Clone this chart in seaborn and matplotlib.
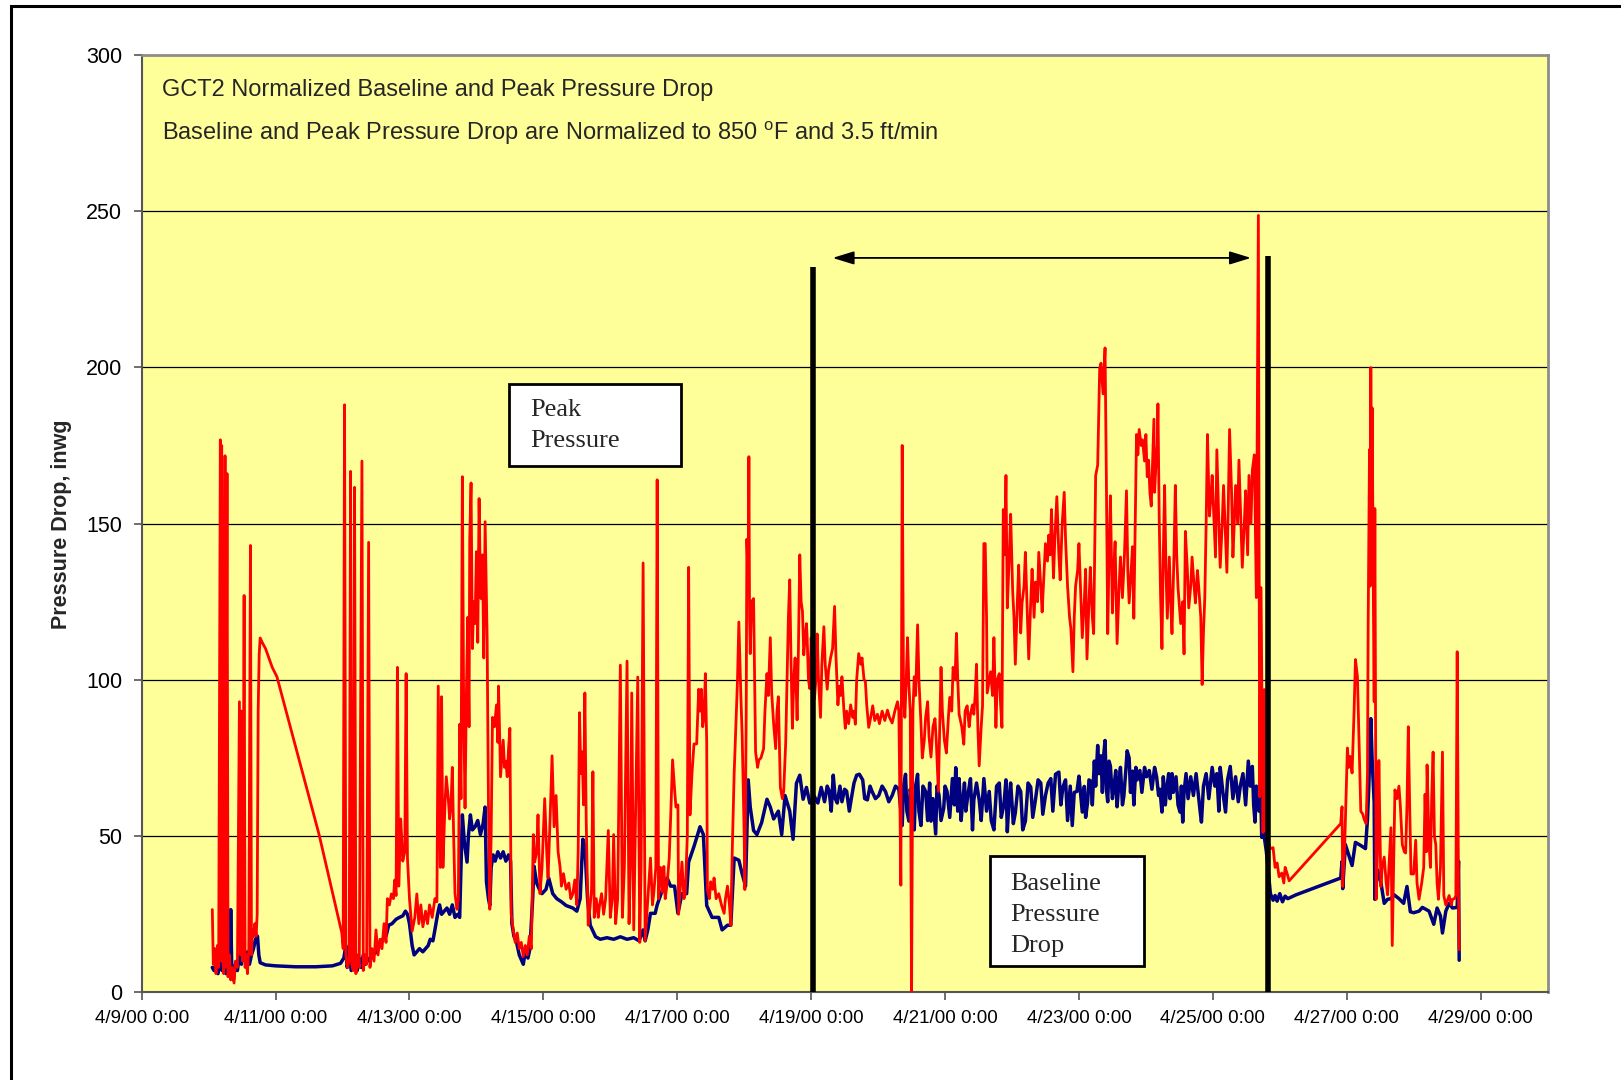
import numpy as np
import pandas as pd
import matplotlib
matplotlib.use("Agg")
import matplotlib.pyplot as plt
import matplotlib.dates as mdates
from matplotlib.ticker import FuncFormatter
from matplotlib.patches import Rectangle
import seaborn as sns

# ---------------- data (days after 4/9/00 0:00, inwg) ----------------
red_days = [1.055, 1.07, 1.09, 1.11, 1.13, 1.15, 1.175, 1.185, 1.195, 1.21, 1.225, 1.245, 1.255, 1.275, 1.29,
            1.31, 1.33, 1.35, 1.38, 1.40, 1.43, 1.46, 1.475, 1.49, 1.51, 1.53, 1.545, 1.56, 1.58, 1.60, 1.625,
            1.64, 1.655, 1.67, 1.69, 1.71, 1.725, 1.74, 1.755, 1.77, 1.80, 1.85, 1.95, 2.02, 2.35, 2.65, 2.99,
            3.01, 3.03, 3.05, 3.075, 3.10, 3.12, 3.14, 3.16, 3.18, 3.20, 3.23, 3.25, 3.29, 3.31, 3.33, 3.36,
            3.39, 3.41, 3.44, 3.47, 3.50, 3.53, 3.56, 3.59, 3.62, 3.65, 3.67, 3.70, 3.73, 3.76, 3.78, 3.80,
            3.82, 3.84, 3.87, 3.90, 3.93, 3.95, 3.97, 4.00, 4.04, 4.08, 4.11, 4.14, 4.17, 4.20, 4.24, 4.27,
            4.30, 4.34, 4.38, 4.41, 4.43, 4.46, 4.48, 4.50, 4.53, 4.55, 4.58, 4.60, 4.62, 4.64, 4.66, 4.68,
            4.71, 4.73, 4.75, 4.77, 4.79, 4.81, 4.83, 4.85, 4.87, 4.89, 4.90, 4.92, 4.94, 4.96, 4.98, 5.00,
            5.02, 5.04, 5.06, 5.07, 5.09, 5.11, 5.13, 5.15, 5.16, 5.18, 5.20, 5.22, 5.24, 5.27, 5.30, 5.32,
            5.33, 5.35, 5.36, 5.38, 5.40, 5.42, 5.44, 5.46, 5.48, 5.50, 5.52, 5.55, 5.58, 5.61, 5.64, 5.67,
            5.70, 5.73, 5.76, 5.79, 5.82, 5.85, 5.87, 5.90, 5.92, 5.95, 5.98, 6.02, 6.05, 6.07, 6.10, 6.13,
            6.16, 6.19, 6.22, 6.25, 6.27, 6.30, 6.34, 6.38, 6.41, 6.44, 6.47, 6.50, 6.52, 6.54, 6.56, 6.58,
            6.60, 6.62, 6.64, 6.67, 6.70, 6.72, 6.74, 6.76, 6.79, 6.82, 6.84, 6.87, 6.90, 6.93, 6.97, 7.00,
            7.03, 7.05, 7.08, 7.11, 7.15, 7.18, 7.21, 7.25, 7.28, 7.30, 7.32, 7.35, 7.38, 7.41, 7.44, 7.46,
            7.49, 7.52, 7.56, 7.60, 7.63, 7.65, 7.68, 7.70, 7.72, 7.75, 7.78, 7.80, 7.82, 7.85, 7.88, 7.90,
            7.93, 7.96, 7.98, 8.01, 8.02, 8.05, 8.07, 8.10, 8.12, 8.15, 8.17, 8.19, 8.22, 8.25, 8.29, 8.32,
            8.34, 8.36, 8.38, 8.40, 8.42, 8.44, 8.45, 8.48, 8.50, 8.53, 8.55, 8.58, 8.62, 8.66, 8.70, 8.72,
            8.75, 8.78, 8.80, 8.82, 8.85, 8.87, 8.90, 8.92, 8.95, 8.97, 9.00, 9.01, 9.03, 9.04, 9.06, 9.07,
            9.08, 9.09, 9.11, 9.14, 9.16, 9.17, 9.20, 9.22, 9.25, 9.29, 9.31, 9.34, 9.36, 9.39, 9.41, 9.44,
            9.47, 9.49, 9.51, 9.53, 9.54, 9.57, 9.59, 9.62, 9.64, 9.66, 9.68, 9.70, 9.72, 9.74, 9.76, 9.78,
            9.79, 9.81, 9.83, 9.85, 9.87, 9.89, 9.91, 9.93, 9.94, 9.96, 9.98, 10.00, 10.02, 10.05, 10.07,
            10.09, 10.11, 10.14, 10.16, 10.19, 10.21, 10.24, 10.26, 10.29, 10.32, 10.35, 10.37, 10.40, 10.42,
            10.44, 10.46, 10.49, 10.51, 10.53, 10.56, 10.59, 10.62, 10.64, 10.66, 10.68, 10.71, 10.74, 10.76,
            10.79, 10.81, 10.83, 10.86, 10.89, 10.92, 10.95, 10.99, 11.02, 11.06, 11.10, 11.14, 11.17, 11.21,
            11.25, 11.29, 11.31, 11.34, 11.36, 11.38, 11.40, 11.42, 11.44, 11.46, 11.48, 11.50, 11.52, 11.54,
            11.56, 11.59, 11.61, 11.64, 11.66, 11.69, 11.71, 11.74, 11.76, 11.79, 11.82, 11.85, 11.87, 11.90,
            11.92, 11.94, 11.96, 11.99, 12.02, 12.05, 12.07, 12.10, 12.12, 12.15, 12.17, 12.19, 12.21, 12.25,
            12.28, 12.30, 12.33, 12.36, 12.38, 12.41, 12.43, 12.45, 12.47, 12.49, 12.51, 12.54, 12.56, 12.58,
            12.60, 12.62, 12.63, 12.66, 12.68, 12.71, 12.73, 12.76, 12.78, 12.81, 12.83, 12.85, 12.87, 12.89,
            12.91, 12.93, 12.96, 12.98, 13.01, 13.03, 13.05, 13.08, 13.10, 13.13, 13.15, 13.18, 13.20, 13.23,
            13.25, 13.28, 13.30, 13.33, 13.35, 13.38, 13.40, 13.43, 13.45, 13.48, 13.50, 13.53, 13.55, 13.57,
            13.59, 13.62, 13.64, 13.67, 13.70, 13.72, 13.75, 13.78, 13.80, 13.83, 13.86, 13.88, 13.91, 13.93,
            13.95, 13.98, 14.00, 14.03, 14.05, 14.08, 14.10, 14.12, 14.15, 14.17, 14.20, 14.22, 14.25, 14.28,
            14.31, 14.33, 14.36, 14.39, 14.41, 14.43, 14.45, 14.47, 14.50, 14.52, 14.54, 14.57, 14.60, 14.62,
            14.65, 14.68, 14.71, 14.73, 14.75, 14.78, 14.80, 14.82, 14.86, 14.88, 14.90, 14.93, 14.95, 14.98,
            15.00, 15.02, 15.04, 15.06, 15.08, 15.10, 15.12, 15.13, 15.15, 15.17, 15.18, 15.20, 15.22, 15.24,
            15.26, 15.28, 15.30, 15.32, 15.35, 15.37, 15.39, 15.42, 15.44, 15.46, 15.48, 15.52, 15.55, 15.57,
            15.59, 15.62, 15.64, 15.67, 15.69, 15.72, 15.74, 15.77, 15.79, 15.82, 15.84, 15.86, 15.88, 15.90,
            15.92, 15.94, 15.95, 15.97, 15.99, 16.02, 16.04, 16.06, 16.09, 16.11, 16.14, 16.16, 16.19, 16.21,
            16.23, 16.25, 16.28, 16.30, 16.32, 16.34, 16.37, 16.39, 16.42, 16.44, 16.47, 16.49, 16.52, 16.54,
            16.57, 16.59, 16.62, 16.65, 16.68, 16.70, 16.72, 16.75, 16.77, 16.80, 16.86, 16.90, 16.93, 16.96,
            16.99, 17.03, 17.06, 17.08, 17.11, 17.14, 17.91, 17.93, 17.94, 17.97, 18.01, 18.03, 18.05, 18.08,
            18.11, 18.13, 18.16, 18.18, 18.21, 18.24, 18.26, 18.29, 18.31, 18.32, 18.34, 18.35, 18.36, 18.37,
            18.38, 18.40, 18.41, 18.42, 18.44, 18.46, 18.47, 18.48, 18.51, 18.53, 18.56, 18.59, 18.61, 18.63,
            18.66, 18.68, 18.70, 18.72, 18.75, 18.78, 18.80, 18.83, 18.86, 18.88, 18.90, 18.92, 18.94, 18.96,
            19.00, 19.03, 19.05, 19.08, 19.12, 19.15, 19.17, 19.19, 19.20, 19.23, 19.25, 19.27, 19.29, 19.31,
            19.33, 19.35, 19.37, 19.40, 19.43, 19.45, 19.48, 19.53, 19.56, 19.58, 19.61, 19.63, 19.65, 19.67,
            19.68]
red_vals = [26.5, 9, 14, 6, 15, 8, 176.8, 10, 175, 12, 6, 171.7, 8, 166, 5,
            12, 4, 8, 3, 10, 8, 93, 12, 90, 10, 127, 8, 12, 6, 14, 143,
            12, 20, 18, 22, 18, 25, 90, 108, 113.4, 112, 110, 104, 101, 74.5, 50.5, 19,
            14, 188, 12, 8, 10, 166.7, 9, 7, 161.6, 6, 12, 8, 170, 7, 12, 9,
            144, 8, 14, 10, 20, 12, 17, 14, 22, 16, 30, 28, 31.5, 30, 36, 31,
            104, 34, 55.5, 42, 45, 102, 43, 30, 19.6, 24, 31.5, 22, 28, 21, 26, 22,
            28, 24, 30, 29, 98, 40, 94.6, 40, 60, 69, 62, 55.5, 60, 72, 50, 31.6,
            26.6, 30, 85.8, 62, 165, 90, 59, 95, 120, 85, 145, 163, 110, 125, 118, 141,
            112, 158, 130, 126, 140, 107, 150.6, 125, 113.5, 60, 26.6, 50, 88, 85, 92, 80,
            98, 80, 69, 75, 80.7, 72, 74, 69, 78, 84.5, 25, 20, 16, 19, 14, 16,
            11.5, 15, 12, 18, 14, 50.5, 41.7, 45, 56.8, 31.6, 40, 62, 45, 36.6, 55, 75.7,
            53, 63, 45, 40, 34, 38, 33, 35, 30, 31.6, 36, 28, 45, 89.5, 70, 77,
            60, 95.8, 55, 21.5, 28, 33, 70.6, 24, 30, 24, 28, 31.6, 25, 30, 51.8, 24,
            30, 50.5, 22, 30, 104.7, 24, 40, 106, 22, 40, 95.8, 20, 60, 100.9, 16, 40,
            137.4, 16.5, 30, 43, 28, 32, 40, 164, 30, 40, 32, 40.3, 30, 35, 43, 55,
            74.4, 65, 59.3, 60, 25, 35, 41.7, 30, 31.6, 50, 136, 56.8, 70, 79.5, 79.5, 97,
            90, 97, 85, 88, 102, 80, 32.9, 30, 35.4, 33, 36.6, 30, 31.6, 28, 25.3, 30,
            34, 28, 21.5, 44, 70, 82, 100, 118.5, 95, 82, 50, 32.9, 90, 145, 130, 171.4,
            120, 108.4, 125, 126, 95, 77, 72, 74.4, 75, 78, 90, 102, 95, 113.5, 96, 85.8,
            78, 90, 94.6, 75, 65.6, 62, 64.4, 80, 99.6, 120, 132, 105, 84.5, 100, 107, 95,
            87.2, 110, 140, 125, 122, 108, 113.5, 118, 113.5, 100, 97.2, 113.5, 105, 94, 100,
            114.7, 100, 88, 105, 117, 105, 97, 103, 107, 110, 123.5, 108, 92, 98,
            95, 101, 90, 84.5, 90, 86, 92, 88, 90, 85.8, 100, 108.4, 105, 107,
            100, 99.6, 92, 84.8, 88, 91.7, 87, 89, 86, 90, 87, 90.3, 88, 86.2,
            90, 93, 90, 34.3, 175, 95, 88, 100, 113.5, 98.5, 90, 0, 90, 101,
            95, 117.6, 100, 86.2, 75, 80.7, 88, 93, 82, 75.3, 85, 87.6, 80, 64.3,
            85, 104, 90, 80.7, 76.6, 88, 94.4, 90, 104, 100, 114.9, 100, 89, 85,
            79.4, 90, 91.7, 85, 89, 92, 89, 95, 105, 85, 72.5, 85, 91.7, 143.6,
            143.6, 120, 95.8, 100, 102.6, 95, 113.5, 84.8, 100, 102, 92, 84.8, 154.5, 140,
            165.4, 123, 140, 153, 128.5, 120, 105, 125, 136.7, 115, 124.5, 130, 140.8, 120,
            106.7, 125, 135.4, 120, 131.3, 125, 140.8, 130, 121.7, 135, 143.6, 138, 146.3, 140,
            154.5, 132.6, 145, 158.6, 140, 132, 150, 160, 145, 130, 120, 116.3, 102.6, 120,
            130, 135, 143.6, 125, 113.5, 125, 135.4, 106.7, 125, 136, 120, 114.8, 165.4, 168.7,
            199.7, 201.3, 191.5, 206.2, 163.8, 114.8, 140, 158.9, 121.4, 135, 144.2, 111.6, 130, 139.3,
            126.3, 140, 160.5, 135, 124.6, 135, 142.6, 119.7, 178.5, 172, 180.1, 175, 176.8, 170,
            178.5, 165, 170.3, 160, 155.6, 170, 183.4, 160, 168.7, 175, 188.3, 150, 126.3, 110,
            140, 162.2, 135, 119.7, 139.3, 125, 114.8, 140, 162.2, 140, 129.5, 118, 125, 108.3,
            147.5, 135, 123, 130, 139.3, 130, 124.6, 135, 129.5, 120, 98.5, 115, 126.3, 150,
            178.5, 160, 152.4, 158, 165.4, 150, 139.3, 173.6, 150, 136, 150, 162.2, 145, 134.4,
            155, 180.1, 160, 139.3, 150, 162.2, 150, 170.3, 150, 136, 150, 160.5, 140, 165.4,
            150, 167, 172, 126.3, 248.6, 62.6, 129.5, 51.2, 96.9, 50, 46, 46.3, 40, 41.4,
            37, 38.2, 35, 40, 38, 35.7, 54, 59.4, 33.9, 47.3, 78.2, 72, 75.5, 70.2,
            90, 106.5, 101, 83.6, 58, 57, 55.4, 54, 70, 117, 173.7, 130, 199.9, 150,
            187, 120, 93, 154.8, 29.8, 45, 51.3, 74.2, 33.9, 40, 43.3, 35, 31.2, 40,
            52.7, 15, 40, 64.8, 62, 66, 60, 47.3, 45, 44.6, 60, 85, 60, 37.9,
            37.9, 48.7, 35, 29.8, 35, 40, 63.4, 45, 72.8, 47.3, 40, 63, 76.9, 50,
            47.3, 35, 29.8, 40, 76.9, 31, 28, 31, 28, 29.8, 30, 31, 109, 30,
            13.7]

blue_days = [1.055, 1.08, 1.11, 1.14, 1.17, 1.20, 1.23, 1.26, 1.29, 1.32, 1.33, 1.345, 1.37, 1.40, 1.43,
             1.46, 1.49, 1.52, 1.55, 1.58, 1.61, 1.64, 1.67, 1.70, 1.73, 1.75, 1.77, 1.85, 2.0, 2.3, 2.6,
             2.85, 2.97, 3.02, 3.05, 3.07, 3.10, 3.13, 3.16, 3.19, 3.22, 3.25, 3.28, 3.31, 3.34, 3.37, 3.40,
             3.44, 3.49, 3.53, 3.56, 3.60, 3.65, 3.69, 3.74, 3.80, 3.85, 3.90, 3.94, 3.97, 4.00, 4.04, 4.07,
             4.11, 4.15, 4.20, 4.24, 4.28, 4.31, 4.35, 4.38, 4.42, 4.45, 4.48, 4.52, 4.56, 4.60, 4.64, 4.68,
             4.72, 4.75, 4.77, 4.79, 4.82, 4.86, 4.88, 4.91, 4.94, 4.98, 5.02, 5.06, 5.10, 5.13, 5.15, 5.18,
             5.20, 5.22, 5.25, 5.28, 5.32, 5.36, 5.40, 5.44, 5.48, 5.51, 5.53, 5.56, 5.60, 5.64, 5.68, 5.70,
             5.73, 5.77, 5.80, 5.84, 5.86, 5.90, 5.94, 5.98, 6.04, 6.08, 6.14, 6.20, 6.27, 6.34, 6.44, 6.50,
             6.55, 6.57, 6.59, 6.62, 6.66, 6.70, 6.78, 6.85, 6.95, 7.05, 7.15, 7.25, 7.35, 7.43, 7.49, 7.52,
             7.56, 7.60, 7.67, 7.70, 7.78, 7.85, 7.90, 7.96, 8.01, 8.07, 8.14, 8.17, 8.25, 8.34, 8.39, 8.44,
             8.52, 8.62, 8.67, 8.75, 8.80, 8.85, 8.92, 8.97, 9.02, 9.06, 9.09, 9.14, 9.19, 9.26, 9.34, 9.39,
             9.44, 9.51, 9.56, 9.61, 9.68, 9.73, 9.78, 9.83, 9.88, 9.93, 9.98, 10.04, 10.10, 10.15, 10.20,
             10.24, 10.27, 10.30, 10.33, 10.36, 10.39, 10.43, 10.46, 10.50, 10.53, 10.57, 10.60, 10.64, 10.68,
             10.72, 10.77, 10.80, 10.84, 10.88, 10.91, 10.96, 11.01, 11.06, 11.11, 11.16, 11.21, 11.26, 11.31,
             11.36, 11.38, 11.41, 11.43, 11.46, 11.48, 11.51, 11.54, 11.56, 11.59, 11.61, 11.64, 11.67, 11.71,
             11.74, 11.77, 11.79, 11.82, 11.86, 11.88, 11.91, 11.94, 11.98, 12.00, 12.03, 12.07, 12.11, 12.14,
             12.16, 12.19, 12.21, 12.24, 12.26, 12.29, 12.31, 12.34, 12.38, 12.41, 12.43, 12.47, 12.51, 12.54,
             12.58, 12.62, 12.66, 12.69, 12.73, 12.77, 12.81, 12.84, 12.88, 12.91, 12.93, 12.96, 12.98, 13.02,
             13.05, 13.09, 13.13, 13.16, 13.20, 13.24, 13.28, 13.31, 13.35, 13.39, 13.43, 13.46, 13.50, 13.54,
             13.58, 13.61, 13.65, 13.70, 13.73, 13.76, 13.80, 13.83, 13.87, 13.90, 13.93, 13.97, 14.00, 14.05,
             14.08, 14.10, 14.13, 14.15, 14.18, 14.20, 14.23, 14.25, 14.28, 14.30, 14.33, 14.35, 14.37, 14.39,
             14.41, 14.43, 14.45, 14.47, 14.50, 14.52, 14.55, 14.57, 14.60, 14.62, 14.65, 14.67, 14.70, 14.72,
             14.75, 14.77, 14.80, 14.82, 14.85, 14.87, 14.91, 14.94, 14.98, 15.01, 15.05, 15.09, 15.13, 15.16,
             15.19, 15.21, 15.24, 15.26, 15.29, 15.31, 15.34, 15.36, 15.39, 15.41, 15.45, 15.48, 15.51, 15.53,
             15.55, 15.57, 15.60, 15.63, 15.67, 15.71, 15.75, 15.78, 15.81, 15.83, 15.86, 15.90, 15.94, 15.99,
             16.03, 16.06, 16.09, 16.11, 16.15, 16.19, 16.22, 16.26, 16.30, 16.34, 16.38, 16.41, 16.45, 16.49,
             16.53, 16.56, 16.59, 16.61, 16.63, 16.65, 16.67, 16.69, 16.71, 16.73, 16.76, 16.80, 16.86, 16.90,
             16.93, 16.96, 17.00, 17.04, 17.08, 17.12, 17.24, 17.91, 17.93, 17.94, 17.98, 18.03, 18.08, 18.13,
             18.21, 18.28, 18.31, 18.33, 18.36, 18.38, 18.41, 18.42, 18.46, 18.51, 18.56, 18.61, 18.66, 18.71,
             18.78, 18.85, 18.90, 18.95, 19.00, 19.08, 19.13, 19.23, 19.30, 19.35, 19.40, 19.43, 19.48, 19.53,
             19.58, 19.65, 19.67, 19.68]
blue_vals = [8, 7, 9, 6, 10, 7, 11, 6, 9, 12, 26.5, 8, 4, 9, 7,
             12, 9, 14, 10, 13, 9, 12, 14, 17, 18, 12, 9.5, 8.8, 8.5, 8.2, 8.2,
             8.5, 9.3, 11, 15, 8, 12, 7, 11, 9, 7, 11, 8, 12, 9, 11, 10,
             12, 12.6, 14, 15, 17, 18, 21.5, 22, 23.4, 24, 24.5, 26, 25, 22, 15, 12,
             13, 14, 13, 14, 15, 17, 16.5, 20, 25, 28, 25, 26, 27, 25, 28, 24,
             25, 24, 40, 56.8, 48, 41.7, 50, 56.8, 52, 53, 55, 50.5, 54, 59.3, 35.4, 30,
             27.8, 40, 44, 42, 45, 43, 45, 42, 44, 42, 22, 18, 16, 12, 10, 9,
             13, 11, 14, 30, 40.4, 35, 33, 31.6, 33, 36.6, 31.6, 30, 29, 27.8, 27, 26,
             30, 40, 49, 46.7, 30, 21.5, 17.8, 17, 17.5, 17, 17.8, 17, 17.5, 16.5, 20, 16.5,
             20, 25.3, 25.3, 28, 32.9, 36.6, 34, 34, 25.3, 31.6, 31.6, 41.7, 46.7, 53, 50.5, 27.8,
             24, 24, 20, 21.5, 21.5, 43, 42.3, 37.9, 34, 68, 59.3, 51.8, 50.5, 54.3, 61.8, 59.3,
             55.5, 58, 50.5, 63, 58, 49, 66.9, 69.5, 61.8, 65.6, 60.6, 63, 60.6, 65.6, 61,
             66, 64.4, 58, 69.5, 62, 60.6, 66, 61, 65, 64.4, 58, 62, 67, 69.5,
             69.8, 68, 62, 61.6, 66, 64.3, 62, 63, 66, 64.3, 61, 63, 66, 65,
             53.4, 66, 69.8, 58, 54.8, 65, 61.6, 52, 66, 69.8, 58, 53.4, 66, 64.3,
             55, 67, 54.8, 62, 50.7, 66, 63, 55, 58.9, 66, 64.3, 56, 68.4, 60,
             71.9, 58, 68.4, 55, 60.2, 67, 58, 63, 68.4, 52, 61.6, 67, 61.6, 55,
             68.4, 58, 64.3, 55, 52, 66, 67, 56, 60.2, 68, 51.4, 63, 67, 54,
             57.5, 66, 64.3, 52, 54.8, 67, 65.7, 56, 61.6, 68, 67, 57, 63, 67,
             68.4, 58, 69.8, 70.5, 60, 65.7, 68, 55, 66, 53.4, 64, 64.3, 69.2, 57.7,
             65.9, 56, 61, 68, 67.5, 60, 74, 66, 79, 70, 75.7, 64, 76, 80.6,
             65, 61, 74, 72.4, 62, 65, 71, 59.4, 68, 72, 60, 62.6, 71, 77.3,
             75, 64, 70.8, 60, 72, 68, 71, 64, 72, 69, 71, 65, 72, 69,
             63, 65, 57.7, 69, 60, 65, 70, 62, 70, 64, 69, 60, 57.7, 66,
             54.5, 64, 70, 62, 69, 63, 70, 64, 58, 54.5, 66, 70, 62, 72,
             66, 70, 58, 72, 64, 57.7, 68, 72.3, 62, 69, 61, 66, 70, 60,
             74, 66, 72.3, 60, 54.5, 66, 62.6, 58, 70, 49.6, 51, 45, 31.6, 29.5,
             31, 29.2, 31.6, 29, 30.8, 30, 31.2, 36.6, 41.9, 33.2, 47.3, 44, 40.6, 48,
             47, 46, 55.4, 66.1, 87.6, 74.2, 60.8, 29.8, 39.2, 35.2, 28.5, 29.8, 30, 31.2,
             30, 28.5, 33.9, 25.8, 25.5, 26, 27.2, 26, 21.8, 27, 24.5, 19, 26, 28.5,
             27, 27.2, 42, 10.3]

x_tick_days = list(range(0, 21, 2))
y_ticks = [0, 50, 100, 150, 200, 250, 300]

title_line1 = "GCT2 Normalized Baseline and Peak Pressure Drop"
title_line2 = r"Baseline and Peak Pressure Drop are Normalized to 850 $^{\mathrm{o}}$F and 3.5 ft/min"
y_label = "Pressure Drop, inwg"
peak_label = "Peak\nPressure"
base_label = "Baseline\nPressure\nDrop"

# annotation geometry (days, inwg)
marker_lines = [(10.03, 232.0), (16.83, 235.5)]
arrow_span = (10.32, 16.57, 235.0)
peak_box = (5.494, 168.4, 8.055, 194.8)
base_box = (12.67, 8.3, 14.97, 43.6)

# ---------------- figure ----------------
START = pd.Timestamp("2000-04-09")


def to_time(d):
    return START + pd.to_timedelta(np.asarray(d, dtype=float), unit="D")


sns.set_theme(style="white")
plt.rcParams["font.family"] = ["Liberation Sans", "DejaVu Sans"]
plt.rcParams["mathtext.fontset"] = "custom"
plt.rcParams["mathtext.rm"] = "Liberation Sans"

fig = plt.figure(figsize=(16.21, 10.80), dpi=100)
fig.patch.set_facecolor("white")
ax = fig.add_axes([0.0874, 0.0811, 0.8673, 0.8682])
ax.set_facecolor("#FFFF99")

red_df = pd.DataFrame({"time": to_time(red_days), "value": red_vals})
blue_df = pd.DataFrame({"time": to_time(blue_days), "value": blue_vals})

sns.lineplot(data=blue_df, x="time", y="value", ax=ax, color="#000080", lw=2.5,
             estimator=None, sort=False, zorder=3)
sns.lineplot(data=red_df, x="time", y="value", ax=ax, color="#FF0000", lw=2.0,
             estimator=None, sort=False, zorder=4)

ax.set_xlim(to_time(0), to_time(21))
ax.set_ylim(0, 300)
ax.set_yticks(y_ticks)
ax.set_xticks(list(to_time(x_tick_days)))


def fmt_date(v, pos=None):
    d = mdates.num2date(v)
    return f"{d.month}/{d.day}/{d:%y} {d.hour}:{d:%M}"


ax.xaxis.set_major_formatter(FuncFormatter(fmt_date))
ax.tick_params(axis="both", which="major", direction="out", length=6, width=1.2,
               color="#555555", labelcolor="black", bottom=True, left=True)
ax.tick_params(axis="x", pad=7, labelsize=13.5)
ax.tick_params(axis="y", pad=8, labelsize=15.5)
ax.set_xlabel("")
ax.set_ylabel("")

ax.grid(False)
for v in y_ticks[1:-1]:
    ax.axhline(v, color="black", lw=0.9, zorder=1)

for side in ["top", "right"]:
    ax.spines[side].set_color("#8C8C8C")
    ax.spines[side].set_linewidth(2)
for side in ["left", "bottom"]:
    ax.spines[side].set_color("#555555")
    ax.spines[side].set_linewidth(1.5)

# thick vertical markers
for d, top in marker_lines:
    ax.plot([to_time(d), to_time(d)], [0, top], color="black", lw=4, zorder=6,
            solid_capstyle="butt")

# double arrow
ax.annotate("", xy=(to_time(arrow_span[1]), arrow_span[2]),
            xytext=(to_time(arrow_span[0]), arrow_span[2]),
            arrowprops=dict(arrowstyle="<|-|>,head_length=0.65,head_width=0.2",
                            mutation_scale=20, color="black", lw=1.3,
                            shrinkA=0, shrinkB=0), zorder=6)

# text boxes
for (d0, v0, d1, v1) in [peak_box, base_box]:
    x0 = mdates.date2num(to_time(d0))
    x1 = mdates.date2num(to_time(d1))
    ax.add_patch(Rectangle((x0, v0), x1 - x0, v1 - v0, facecolor="white",
                           edgecolor="black", lw=2, zorder=7))

ax.text(to_time(5.80), 181.3, peak_label, fontsize=19, family="Liberation Serif",
        va="center", ha="left", linespacing=1.52, zorder=8)
ax.text(to_time(12.98), 24.8, base_label, fontsize=19, family="Liberation Serif",
        va="center", ha="left", linespacing=1.52, zorder=8)

# titles inside plot
ax.text(0.0145, 0.9624, title_line1, transform=ax.transAxes, fontsize=17,
        va="center", ha="left", zorder=8)
ax.text(0.0145, 0.9162, title_line2, transform=ax.transAxes, fontsize=17,
        va="center", ha="left", zorder=8)

fig.text(0.0382, 0.5148, y_label, rotation=90, fontsize=15.5, fontweight="bold",
         ha="center", va="center")

# outer frame of the figure (partially off-canvas on right/bottom)
fig.patches.append(Rectangle((10.5 / 1621, -0.05), 1.2, 1.05 - 6.5 / 1080,
                             transform=fig.transFigure, fill=False,
                             edgecolor="black", lw=2.2))

fig.savefig("out.png", dpi=100)
